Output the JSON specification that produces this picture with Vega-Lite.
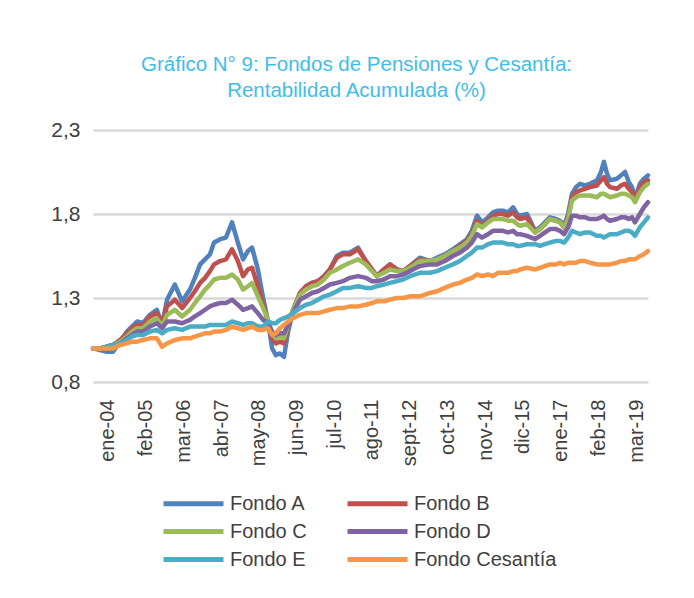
{
"$schema": "https://vega.github.io/schema/vega-lite/v6.json",
"width": 555, "height": 252,
"autosize": "none",
"padding": {"left": 93, "top": 130, "right": 46, "bottom": 216},
"background": "white",
"title": {"text": ["Gráfico N° 9: Fondos de Pensiones y Cesantía:", "Rentabilidad Acumulada (%)"], "font": "Liberation Sans, sans-serif", "fontSize": 20.5, "fontWeight": "normal", "color": "#3DBEEA", "anchor": "middle", "dx": -14, "offset": -2, "lineHeight": 26, "baseline": "bottom"},
"datasets": {"series": [
{"t":-5.1,"s":"Fondo A","v":1.00},{"t":-2.7,"s":"Fondo A","v":0.99},{"t":-0.3,"s":"Fondo A","v":0.98},{"t":1.8,"s":"Fondo A","v":0.98},{"t":4.2,"s":"Fondo A","v":1.04},{"t":6.6,"s":"Fondo A","v":1.10},{"t":8.3,"s":"Fondo A","v":1.13},{"t":10.1,"s":"Fondo A","v":1.16},{"t":12.1,"s":"Fondo A","v":1.15},{"t":14.5,"s":"Fondo A","v":1.20},
{"t":16.9,"s":"Fondo A","v":1.23},{"t":18.7,"s":"Fondo A","v":1.14},{"t":20.4,"s":"Fondo A","v":1.29},{"t":23.1,"s":"Fondo A","v":1.38},{"t":25.6,"s":"Fondo A","v":1.28},{"t":28.3,"s":"Fondo A","v":1.35},{"t":30.0,"s":"Fondo A","v":1.42},{"t":31.8,"s":"Fondo A","v":1.50},{"t":33.5,"s":"Fondo A","v":1.53},{"t":35.2,"s":"Fondo A","v":1.56},
{"t":36.6,"s":"Fondo A","v":1.63},{"t":38.7,"s":"Fondo A","v":1.65},{"t":40.7,"s":"Fondo A","v":1.66},{"t":42.8,"s":"Fondo A","v":1.75},{"t":44.8,"s":"Fondo A","v":1.63},{"t":46.6,"s":"Fondo A","v":1.53},{"t":48.3,"s":"Fondo A","v":1.58},{"t":49.7,"s":"Fondo A","v":1.60},{"t":51.7,"s":"Fondo A","v":1.47},{"t":53.5,"s":"Fondo A","v":1.30},
{"t":55.2,"s":"Fondo A","v":1.16},{"t":56.6,"s":"Fondo A","v":1.00},{"t":57.9,"s":"Fondo A","v":0.96},{"t":59.3,"s":"Fondo A","v":0.97},{"t":60.7,"s":"Fondo A","v":0.95},{"t":62.1,"s":"Fondo A","v":1.10},{"t":63.8,"s":"Fondo A","v":1.22},{"t":66.2,"s":"Fondo A","v":1.33},{"t":68.3,"s":"Fondo A","v":1.37},{"t":70.3,"s":"Fondo A","v":1.39},
{"t":72.4,"s":"Fondo A","v":1.40},{"t":74.5,"s":"Fondo A","v":1.43},{"t":76.5,"s":"Fondo A","v":1.47},{"t":78.9,"s":"Fondo A","v":1.55},{"t":81.0,"s":"Fondo A","v":1.57},{"t":83.4,"s":"Fondo A","v":1.57},{"t":86.2,"s":"Fondo A","v":1.60},{"t":88.9,"s":"Fondo A","v":1.52},{"t":91.0,"s":"Fondo A","v":1.47},{"t":92.7,"s":"Fondo A","v":1.43},
{"t":95.1,"s":"Fondo A","v":1.47},{"t":97.2,"s":"Fondo A","v":1.50},{"t":99.6,"s":"Fondo A","v":1.47},{"t":101.7,"s":"Fondo A","v":1.46},{"t":104.1,"s":"Fondo A","v":1.49},{"t":107.5,"s":"Fondo A","v":1.54},{"t":111.0,"s":"Fondo A","v":1.52},{"t":113.4,"s":"Fondo A","v":1.54},{"t":116.1,"s":"Fondo A","v":1.56},{"t":118.9,"s":"Fondo A","v":1.59},
{"t":121.3,"s":"Fondo A","v":1.62},{"t":123.7,"s":"Fondo A","v":1.65},{"t":125.4,"s":"Fondo A","v":1.70},{"t":127.2,"s":"Fondo A","v":1.79},{"t":128.9,"s":"Fondo A","v":1.75},{"t":131.0,"s":"Fondo A","v":1.78},{"t":132.7,"s":"Fondo A","v":1.81},{"t":134.4,"s":"Fondo A","v":1.82},{"t":136.1,"s":"Fondo A","v":1.82},{"t":137.9,"s":"Fondo A","v":1.81},
{"t":139.6,"s":"Fondo A","v":1.84},{"t":141.0,"s":"Fondo A","v":1.80},{"t":142.0,"s":"Fondo A","v":1.79},{"t":144.4,"s":"Fondo A","v":1.80},{"t":147.2,"s":"Fondo A","v":1.70},{"t":148.9,"s":"Fondo A","v":1.72},{"t":150.6,"s":"Fondo A","v":1.75},{"t":152.3,"s":"Fondo A","v":1.78},{"t":154.4,"s":"Fondo A","v":1.77},{"t":155.8,"s":"Fondo A","v":1.76},
{"t":157.2,"s":"Fondo A","v":1.73},{"t":158.6,"s":"Fondo A","v":1.80},{"t":159.9,"s":"Fondo A","v":1.92},{"t":161.3,"s":"Fondo A","v":1.96},{"t":162.7,"s":"Fondo A","v":1.98},{"t":164.4,"s":"Fondo A","v":1.97},{"t":166.1,"s":"Fondo A","v":1.98},{"t":168.5,"s":"Fondo A","v":2.00},{"t":169.9,"s":"Fondo A","v":2.05},{"t":170.9,"s":"Fondo A","v":2.11},
{"t":172.0,"s":"Fondo A","v":2.04},{"t":173.0,"s":"Fondo A","v":2.00},{"t":175.4,"s":"Fondo A","v":2.01},{"t":176.8,"s":"Fondo A","v":2.03},{"t":178.2,"s":"Fondo A","v":2.05},{"t":179.5,"s":"Fondo A","v":1.99},{"t":180.6,"s":"Fondo A","v":1.96},{"t":181.6,"s":"Fondo A","v":1.89},{"t":183.3,"s":"Fondo A","v":1.98},{"t":184.7,"s":"Fondo A","v":2.01},{"t":186.1,"s":"Fondo A","v":2.03},

{"t":-5.1,"s":"Fondo B","v":1.00},{"t":-2.7,"s":"Fondo B","v":1.00},{"t":-0.3,"s":"Fondo B","v":1.01},{"t":1.8,"s":"Fondo B","v":1.02},{"t":4.2,"s":"Fondo B","v":1.05},{"t":6.6,"s":"Fondo B","v":1.09},{"t":8.3,"s":"Fondo B","v":1.12},{"t":10.1,"s":"Fondo B","v":1.14},{"t":12.1,"s":"Fondo B","v":1.14},{"t":14.5,"s":"Fondo B","v":1.19},
{"t":16.9,"s":"Fondo B","v":1.21},{"t":18.7,"s":"Fondo B","v":1.14},{"t":20.4,"s":"Fondo B","v":1.25},{"t":23.1,"s":"Fondo B","v":1.29},{"t":25.6,"s":"Fondo B","v":1.24},{"t":28.3,"s":"Fondo B","v":1.30},{"t":30.0,"s":"Fondo B","v":1.34},{"t":31.8,"s":"Fondo B","v":1.39},{"t":33.5,"s":"Fondo B","v":1.42},{"t":35.2,"s":"Fondo B","v":1.46},
{"t":36.6,"s":"Fondo B","v":1.50},{"t":38.7,"s":"Fondo B","v":1.52},{"t":40.7,"s":"Fondo B","v":1.53},{"t":42.8,"s":"Fondo B","v":1.59},{"t":44.8,"s":"Fondo B","v":1.52},{"t":46.6,"s":"Fondo B","v":1.43},{"t":48.3,"s":"Fondo B","v":1.47},{"t":49.7,"s":"Fondo B","v":1.48},{"t":51.7,"s":"Fondo B","v":1.37},{"t":53.5,"s":"Fondo B","v":1.26},
{"t":55.2,"s":"Fondo B","v":1.16},{"t":56.6,"s":"Fondo B","v":1.06},{"t":57.9,"s":"Fondo B","v":1.03},{"t":59.3,"s":"Fondo B","v":1.04},{"t":60.7,"s":"Fondo B","v":1.03},{"t":62.1,"s":"Fondo B","v":1.13},{"t":63.8,"s":"Fondo B","v":1.23},{"t":66.2,"s":"Fondo B","v":1.33},{"t":68.3,"s":"Fondo B","v":1.37},{"t":70.3,"s":"Fondo B","v":1.39},
{"t":72.4,"s":"Fondo B","v":1.40},{"t":74.5,"s":"Fondo B","v":1.43},{"t":76.5,"s":"Fondo B","v":1.47},{"t":78.9,"s":"Fondo B","v":1.54},{"t":81.0,"s":"Fondo B","v":1.56},{"t":83.4,"s":"Fondo B","v":1.56},{"t":86.2,"s":"Fondo B","v":1.59},{"t":88.9,"s":"Fondo B","v":1.52},{"t":91.0,"s":"Fondo B","v":1.47},{"t":92.7,"s":"Fondo B","v":1.43},
{"t":95.1,"s":"Fondo B","v":1.47},{"t":97.2,"s":"Fondo B","v":1.50},{"t":99.6,"s":"Fondo B","v":1.47},{"t":101.7,"s":"Fondo B","v":1.46},{"t":104.1,"s":"Fondo B","v":1.49},{"t":107.5,"s":"Fondo B","v":1.53},{"t":111.0,"s":"Fondo B","v":1.52},{"t":113.4,"s":"Fondo B","v":1.53},{"t":116.1,"s":"Fondo B","v":1.55},{"t":118.9,"s":"Fondo B","v":1.58},
{"t":121.3,"s":"Fondo B","v":1.61},{"t":123.7,"s":"Fondo B","v":1.64},{"t":125.4,"s":"Fondo B","v":1.68},{"t":127.2,"s":"Fondo B","v":1.76},{"t":128.9,"s":"Fondo B","v":1.73},{"t":131.0,"s":"Fondo B","v":1.76},{"t":132.7,"s":"Fondo B","v":1.79},{"t":134.4,"s":"Fondo B","v":1.80},{"t":136.1,"s":"Fondo B","v":1.80},{"t":137.9,"s":"Fondo B","v":1.79},
{"t":139.6,"s":"Fondo B","v":1.81},{"t":141.0,"s":"Fondo B","v":1.78},{"t":142.0,"s":"Fondo B","v":1.77},{"t":144.4,"s":"Fondo B","v":1.78},{"t":147.2,"s":"Fondo B","v":1.69},{"t":148.9,"s":"Fondo B","v":1.71},{"t":150.6,"s":"Fondo B","v":1.74},{"t":152.3,"s":"Fondo B","v":1.77},{"t":154.4,"s":"Fondo B","v":1.76},{"t":155.8,"s":"Fondo B","v":1.75},
{"t":157.2,"s":"Fondo B","v":1.72},{"t":158.6,"s":"Fondo B","v":1.78},{"t":159.9,"s":"Fondo B","v":1.90},{"t":161.3,"s":"Fondo B","v":1.93},{"t":162.7,"s":"Fondo B","v":1.94},{"t":164.4,"s":"Fondo B","v":1.95},{"t":166.1,"s":"Fondo B","v":1.96},{"t":168.5,"s":"Fondo B","v":1.97},{"t":169.9,"s":"Fondo B","v":2.00},{"t":170.9,"s":"Fondo B","v":2.02},
{"t":172.0,"s":"Fondo B","v":1.98},{"t":173.0,"s":"Fondo B","v":1.96},{"t":175.4,"s":"Fondo B","v":1.95},{"t":176.8,"s":"Fondo B","v":1.97},{"t":178.2,"s":"Fondo B","v":1.98},{"t":179.5,"s":"Fondo B","v":1.95},{"t":180.6,"s":"Fondo B","v":1.93},{"t":181.6,"s":"Fondo B","v":1.88},{"t":183.3,"s":"Fondo B","v":1.96},{"t":184.7,"s":"Fondo B","v":1.99},{"t":186.1,"s":"Fondo B","v":2.00},

{"t":-5.1,"s":"Fondo C","v":1.00},{"t":-2.7,"s":"Fondo C","v":1.00},{"t":-0.3,"s":"Fondo C","v":1.01},{"t":1.8,"s":"Fondo C","v":1.02},{"t":4.2,"s":"Fondo C","v":1.04},{"t":6.6,"s":"Fondo C","v":1.07},{"t":8.3,"s":"Fondo C","v":1.10},{"t":10.1,"s":"Fondo C","v":1.12},{"t":12.1,"s":"Fondo C","v":1.12},{"t":14.5,"s":"Fondo C","v":1.16},
{"t":16.9,"s":"Fondo C","v":1.18},{"t":18.7,"s":"Fondo C","v":1.13},{"t":20.4,"s":"Fondo C","v":1.20},{"t":23.1,"s":"Fondo C","v":1.23},{"t":25.6,"s":"Fondo C","v":1.19},{"t":28.3,"s":"Fondo C","v":1.23},{"t":30.0,"s":"Fondo C","v":1.27},{"t":31.8,"s":"Fondo C","v":1.31},{"t":33.5,"s":"Fondo C","v":1.35},{"t":35.2,"s":"Fondo C","v":1.38},
{"t":36.6,"s":"Fondo C","v":1.41},{"t":38.7,"s":"Fondo C","v":1.42},{"t":40.7,"s":"Fondo C","v":1.42},{"t":42.8,"s":"Fondo C","v":1.44},{"t":44.8,"s":"Fondo C","v":1.41},{"t":46.6,"s":"Fondo C","v":1.35},{"t":48.3,"s":"Fondo C","v":1.37},{"t":49.7,"s":"Fondo C","v":1.39},{"t":51.7,"s":"Fondo C","v":1.31},{"t":53.5,"s":"Fondo C","v":1.24},
{"t":55.2,"s":"Fondo C","v":1.17},{"t":56.6,"s":"Fondo C","v":1.09},{"t":57.9,"s":"Fondo C","v":1.06},{"t":59.3,"s":"Fondo C","v":1.07},{"t":60.7,"s":"Fondo C","v":1.06},{"t":62.1,"s":"Fondo C","v":1.14},{"t":63.8,"s":"Fondo C","v":1.23},{"t":66.2,"s":"Fondo C","v":1.32},{"t":68.3,"s":"Fondo C","v":1.35},{"t":70.3,"s":"Fondo C","v":1.37},
{"t":72.4,"s":"Fondo C","v":1.38},{"t":74.5,"s":"Fondo C","v":1.41},{"t":76.5,"s":"Fondo C","v":1.45},{"t":78.9,"s":"Fondo C","v":1.47},{"t":81.0,"s":"Fondo C","v":1.49},{"t":83.4,"s":"Fondo C","v":1.51},{"t":86.2,"s":"Fondo C","v":1.53},{"t":88.9,"s":"Fondo C","v":1.50},{"t":91.0,"s":"Fondo C","v":1.46},{"t":92.7,"s":"Fondo C","v":1.43},
{"t":95.1,"s":"Fondo C","v":1.45},{"t":97.2,"s":"Fondo C","v":1.47},{"t":99.6,"s":"Fondo C","v":1.46},{"t":101.7,"s":"Fondo C","v":1.46},{"t":104.1,"s":"Fondo C","v":1.48},{"t":107.5,"s":"Fondo C","v":1.52},{"t":111.0,"s":"Fondo C","v":1.52},{"t":113.4,"s":"Fondo C","v":1.53},{"t":116.1,"s":"Fondo C","v":1.55},{"t":118.9,"s":"Fondo C","v":1.58},
{"t":121.3,"s":"Fondo C","v":1.60},{"t":123.7,"s":"Fondo C","v":1.63},{"t":125.4,"s":"Fondo C","v":1.67},{"t":127.2,"s":"Fondo C","v":1.74},{"t":128.9,"s":"Fondo C","v":1.72},{"t":131.0,"s":"Fondo C","v":1.75},{"t":132.7,"s":"Fondo C","v":1.77},{"t":134.4,"s":"Fondo C","v":1.77},{"t":136.1,"s":"Fondo C","v":1.77},{"t":137.9,"s":"Fondo C","v":1.76},
{"t":139.6,"s":"Fondo C","v":1.76},{"t":141.0,"s":"Fondo C","v":1.74},{"t":142.0,"s":"Fondo C","v":1.73},{"t":144.4,"s":"Fondo C","v":1.74},{"t":147.2,"s":"Fondo C","v":1.69},{"t":148.9,"s":"Fondo C","v":1.71},{"t":150.6,"s":"Fondo C","v":1.74},{"t":152.3,"s":"Fondo C","v":1.77},{"t":154.4,"s":"Fondo C","v":1.76},{"t":155.8,"s":"Fondo C","v":1.75},
{"t":157.2,"s":"Fondo C","v":1.72},{"t":158.6,"s":"Fondo C","v":1.77},{"t":159.9,"s":"Fondo C","v":1.88},{"t":161.3,"s":"Fondo C","v":1.90},{"t":162.7,"s":"Fondo C","v":1.91},{"t":164.4,"s":"Fondo C","v":1.91},{"t":166.1,"s":"Fondo C","v":1.91},{"t":168.5,"s":"Fondo C","v":1.90},{"t":169.9,"s":"Fondo C","v":1.92},{"t":170.9,"s":"Fondo C","v":1.92},
{"t":172.0,"s":"Fondo C","v":1.91},{"t":173.0,"s":"Fondo C","v":1.90},{"t":175.4,"s":"Fondo C","v":1.91},{"t":176.8,"s":"Fondo C","v":1.92},{"t":178.2,"s":"Fondo C","v":1.92},{"t":179.5,"s":"Fondo C","v":1.91},{"t":180.6,"s":"Fondo C","v":1.90},{"t":181.6,"s":"Fondo C","v":1.87},{"t":183.3,"s":"Fondo C","v":1.93},{"t":184.7,"s":"Fondo C","v":1.96},{"t":186.1,"s":"Fondo C","v":1.98},

{"t":-5.1,"s":"Fondo D","v":1.00},{"t":-2.7,"s":"Fondo D","v":1.00},{"t":-0.3,"s":"Fondo D","v":1.01},{"t":1.8,"s":"Fondo D","v":1.02},{"t":4.2,"s":"Fondo D","v":1.03},{"t":6.6,"s":"Fondo D","v":1.06},{"t":8.3,"s":"Fondo D","v":1.08},{"t":10.1,"s":"Fondo D","v":1.10},{"t":12.1,"s":"Fondo D","v":1.10},{"t":14.5,"s":"Fondo D","v":1.13},
{"t":16.9,"s":"Fondo D","v":1.15},{"t":18.7,"s":"Fondo D","v":1.12},{"t":20.4,"s":"Fondo D","v":1.16},{"t":23.1,"s":"Fondo D","v":1.16},{"t":25.6,"s":"Fondo D","v":1.15},{"t":28.3,"s":"Fondo D","v":1.17},{"t":30.0,"s":"Fondo D","v":1.19},{"t":31.8,"s":"Fondo D","v":1.21},{"t":33.5,"s":"Fondo D","v":1.23},{"t":35.2,"s":"Fondo D","v":1.25},
{"t":36.6,"s":"Fondo D","v":1.26},{"t":38.7,"s":"Fondo D","v":1.27},{"t":40.7,"s":"Fondo D","v":1.27},{"t":42.8,"s":"Fondo D","v":1.29},{"t":44.8,"s":"Fondo D","v":1.26},{"t":46.6,"s":"Fondo D","v":1.23},{"t":48.3,"s":"Fondo D","v":1.24},{"t":49.7,"s":"Fondo D","v":1.25},{"t":51.7,"s":"Fondo D","v":1.21},{"t":53.5,"s":"Fondo D","v":1.17},
{"t":55.2,"s":"Fondo D","v":1.15},{"t":56.6,"s":"Fondo D","v":1.10},{"t":57.9,"s":"Fondo D","v":1.08},{"t":59.3,"s":"Fondo D","v":1.09},{"t":60.7,"s":"Fondo D","v":1.09},{"t":62.1,"s":"Fondo D","v":1.14},{"t":63.8,"s":"Fondo D","v":1.21},{"t":66.2,"s":"Fondo D","v":1.29},{"t":68.3,"s":"Fondo D","v":1.31},{"t":70.3,"s":"Fondo D","v":1.33},
{"t":72.4,"s":"Fondo D","v":1.34},{"t":74.5,"s":"Fondo D","v":1.36},{"t":76.5,"s":"Fondo D","v":1.38},{"t":78.9,"s":"Fondo D","v":1.39},{"t":81.0,"s":"Fondo D","v":1.40},{"t":83.4,"s":"Fondo D","v":1.42},{"t":86.2,"s":"Fondo D","v":1.43},{"t":88.9,"s":"Fondo D","v":1.42},{"t":91.0,"s":"Fondo D","v":1.40},{"t":92.7,"s":"Fondo D","v":1.40},
{"t":95.1,"s":"Fondo D","v":1.41},{"t":97.2,"s":"Fondo D","v":1.43},{"t":99.6,"s":"Fondo D","v":1.43},{"t":101.7,"s":"Fondo D","v":1.44},{"t":104.1,"s":"Fondo D","v":1.46},{"t":107.5,"s":"Fondo D","v":1.49},{"t":111.0,"s":"Fondo D","v":1.50},{"t":113.4,"s":"Fondo D","v":1.50},{"t":116.1,"s":"Fondo D","v":1.52},{"t":118.9,"s":"Fondo D","v":1.55},
{"t":121.3,"s":"Fondo D","v":1.57},{"t":123.7,"s":"Fondo D","v":1.60},{"t":125.4,"s":"Fondo D","v":1.63},{"t":127.2,"s":"Fondo D","v":1.68},{"t":128.9,"s":"Fondo D","v":1.66},{"t":131.0,"s":"Fondo D","v":1.68},{"t":132.7,"s":"Fondo D","v":1.70},{"t":134.4,"s":"Fondo D","v":1.70},{"t":136.1,"s":"Fondo D","v":1.70},{"t":137.9,"s":"Fondo D","v":1.69},
{"t":139.6,"s":"Fondo D","v":1.70},{"t":141.0,"s":"Fondo D","v":1.68},{"t":142.0,"s":"Fondo D","v":1.68},{"t":144.4,"s":"Fondo D","v":1.67},{"t":147.2,"s":"Fondo D","v":1.65},{"t":148.9,"s":"Fondo D","v":1.67},{"t":150.6,"s":"Fondo D","v":1.69},{"t":152.3,"s":"Fondo D","v":1.71},{"t":154.4,"s":"Fondo D","v":1.71},{"t":155.8,"s":"Fondo D","v":1.70},
{"t":157.2,"s":"Fondo D","v":1.68},{"t":158.6,"s":"Fondo D","v":1.72},{"t":159.9,"s":"Fondo D","v":1.79},{"t":161.3,"s":"Fondo D","v":1.79},{"t":162.7,"s":"Fondo D","v":1.78},{"t":164.4,"s":"Fondo D","v":1.78},{"t":166.1,"s":"Fondo D","v":1.77},{"t":168.5,"s":"Fondo D","v":1.77},{"t":169.9,"s":"Fondo D","v":1.78},{"t":170.9,"s":"Fondo D","v":1.79},
{"t":172.0,"s":"Fondo D","v":1.77},{"t":173.0,"s":"Fondo D","v":1.76},{"t":175.4,"s":"Fondo D","v":1.77},{"t":176.8,"s":"Fondo D","v":1.78},{"t":178.2,"s":"Fondo D","v":1.78},{"t":179.5,"s":"Fondo D","v":1.77},{"t":180.6,"s":"Fondo D","v":1.78},{"t":181.6,"s":"Fondo D","v":1.75},{"t":183.3,"s":"Fondo D","v":1.80},{"t":184.7,"s":"Fondo D","v":1.84},{"t":186.1,"s":"Fondo D","v":1.87},

{"t":-5.1,"s":"Fondo E","v":1.00},{"t":-2.7,"s":"Fondo E","v":1.00},{"t":-0.3,"s":"Fondo E","v":1.01},{"t":1.8,"s":"Fondo E","v":1.02},{"t":4.2,"s":"Fondo E","v":1.03},{"t":6.6,"s":"Fondo E","v":1.05},{"t":8.3,"s":"Fondo E","v":1.07},{"t":10.1,"s":"Fondo E","v":1.08},{"t":12.1,"s":"Fondo E","v":1.08},{"t":14.5,"s":"Fondo E","v":1.10},
{"t":16.9,"s":"Fondo E","v":1.11},{"t":18.7,"s":"Fondo E","v":1.09},{"t":20.4,"s":"Fondo E","v":1.11},{"t":23.1,"s":"Fondo E","v":1.12},{"t":25.6,"s":"Fondo E","v":1.11},{"t":28.3,"s":"Fondo E","v":1.13},{"t":30.0,"s":"Fondo E","v":1.13},{"t":31.8,"s":"Fondo E","v":1.13},{"t":33.5,"s":"Fondo E","v":1.13},{"t":35.2,"s":"Fondo E","v":1.14},
{"t":36.6,"s":"Fondo E","v":1.14},{"t":38.7,"s":"Fondo E","v":1.14},{"t":40.7,"s":"Fondo E","v":1.14},{"t":42.8,"s":"Fondo E","v":1.16},{"t":44.8,"s":"Fondo E","v":1.15},{"t":46.6,"s":"Fondo E","v":1.14},{"t":48.3,"s":"Fondo E","v":1.15},{"t":49.7,"s":"Fondo E","v":1.15},{"t":51.7,"s":"Fondo E","v":1.13},{"t":53.5,"s":"Fondo E","v":1.13},
{"t":55.2,"s":"Fondo E","v":1.16},{"t":56.6,"s":"Fondo E","v":1.15},{"t":57.9,"s":"Fondo E","v":1.15},{"t":59.3,"s":"Fondo E","v":1.17},{"t":60.7,"s":"Fondo E","v":1.18},{"t":62.1,"s":"Fondo E","v":1.19},{"t":63.8,"s":"Fondo E","v":1.21},{"t":66.2,"s":"Fondo E","v":1.24},{"t":68.3,"s":"Fondo E","v":1.26},{"t":70.3,"s":"Fondo E","v":1.27},
{"t":72.4,"s":"Fondo E","v":1.29},{"t":74.5,"s":"Fondo E","v":1.31},{"t":76.5,"s":"Fondo E","v":1.32},{"t":78.9,"s":"Fondo E","v":1.34},{"t":81.0,"s":"Fondo E","v":1.36},{"t":83.4,"s":"Fondo E","v":1.36},{"t":86.2,"s":"Fondo E","v":1.37},{"t":88.9,"s":"Fondo E","v":1.36},{"t":91.0,"s":"Fondo E","v":1.36},{"t":92.7,"s":"Fondo E","v":1.37},
{"t":95.1,"s":"Fondo E","v":1.38},{"t":97.2,"s":"Fondo E","v":1.39},{"t":99.6,"s":"Fondo E","v":1.40},{"t":101.7,"s":"Fondo E","v":1.41},{"t":104.1,"s":"Fondo E","v":1.43},{"t":107.5,"s":"Fondo E","v":1.45},{"t":111.0,"s":"Fondo E","v":1.45},{"t":113.4,"s":"Fondo E","v":1.46},{"t":116.1,"s":"Fondo E","v":1.48},{"t":118.9,"s":"Fondo E","v":1.50},
{"t":121.3,"s":"Fondo E","v":1.52},{"t":123.7,"s":"Fondo E","v":1.55},{"t":125.4,"s":"Fondo E","v":1.57},{"t":127.2,"s":"Fondo E","v":1.60},{"t":128.9,"s":"Fondo E","v":1.60},{"t":131.0,"s":"Fondo E","v":1.62},{"t":132.7,"s":"Fondo E","v":1.63},{"t":134.4,"s":"Fondo E","v":1.63},{"t":136.1,"s":"Fondo E","v":1.63},{"t":137.9,"s":"Fondo E","v":1.62},
{"t":139.6,"s":"Fondo E","v":1.62},{"t":141.0,"s":"Fondo E","v":1.61},{"t":142.0,"s":"Fondo E","v":1.61},{"t":144.4,"s":"Fondo E","v":1.62},{"t":147.2,"s":"Fondo E","v":1.62},{"t":148.9,"s":"Fondo E","v":1.61},{"t":150.6,"s":"Fondo E","v":1.62},{"t":152.3,"s":"Fondo E","v":1.63},{"t":154.4,"s":"Fondo E","v":1.64},{"t":155.8,"s":"Fondo E","v":1.64},
{"t":157.2,"s":"Fondo E","v":1.63},{"t":158.6,"s":"Fondo E","v":1.66},{"t":159.9,"s":"Fondo E","v":1.70},{"t":161.3,"s":"Fondo E","v":1.69},{"t":162.7,"s":"Fondo E","v":1.68},{"t":164.4,"s":"Fondo E","v":1.69},{"t":166.1,"s":"Fondo E","v":1.69},{"t":168.5,"s":"Fondo E","v":1.67},{"t":169.9,"s":"Fondo E","v":1.67},{"t":170.9,"s":"Fondo E","v":1.66},
{"t":172.0,"s":"Fondo E","v":1.67},{"t":173.0,"s":"Fondo E","v":1.68},{"t":175.4,"s":"Fondo E","v":1.68},{"t":176.8,"s":"Fondo E","v":1.69},{"t":178.2,"s":"Fondo E","v":1.70},{"t":179.5,"s":"Fondo E","v":1.70},{"t":180.6,"s":"Fondo E","v":1.69},{"t":181.6,"s":"Fondo E","v":1.67},{"t":183.3,"s":"Fondo E","v":1.72},{"t":184.7,"s":"Fondo E","v":1.75},{"t":186.1,"s":"Fondo E","v":1.78},

{"t":-5.1,"s":"Fondo Cesantía","v":1.00},{"t":-2.7,"s":"Fondo Cesantía","v":1.00},{"t":-0.3,"s":"Fondo Cesantía","v":1.00},{"t":1.8,"s":"Fondo Cesantía","v":1.00},{"t":4.2,"s":"Fondo Cesantía","v":1.02},{"t":6.6,"s":"Fondo Cesantía","v":1.03},{"t":8.3,"s":"Fondo Cesantía","v":1.04},{"t":10.1,"s":"Fondo Cesantía","v":1.04},{"t":12.1,"s":"Fondo Cesantía","v":1.05},{"t":14.5,"s":"Fondo Cesantía","v":1.06},
{"t":16.9,"s":"Fondo Cesantía","v":1.06},{"t":18.7,"s":"Fondo Cesantía","v":1.01},{"t":20.4,"s":"Fondo Cesantía","v":1.03},{"t":23.1,"s":"Fondo Cesantía","v":1.05},{"t":25.6,"s":"Fondo Cesantía","v":1.06},{"t":28.3,"s":"Fondo Cesantía","v":1.06},{"t":30.0,"s":"Fondo Cesantía","v":1.07},{"t":31.8,"s":"Fondo Cesantía","v":1.08},{"t":33.5,"s":"Fondo Cesantía","v":1.09},{"t":35.2,"s":"Fondo Cesantía","v":1.09},
{"t":36.6,"s":"Fondo Cesantía","v":1.10},{"t":38.7,"s":"Fondo Cesantía","v":1.10},{"t":40.7,"s":"Fondo Cesantía","v":1.11},{"t":42.8,"s":"Fondo Cesantía","v":1.13},{"t":44.8,"s":"Fondo Cesantía","v":1.12},{"t":46.6,"s":"Fondo Cesantía","v":1.11},{"t":48.3,"s":"Fondo Cesantía","v":1.12},{"t":49.7,"s":"Fondo Cesantía","v":1.13},{"t":51.7,"s":"Fondo Cesantía","v":1.11},{"t":53.5,"s":"Fondo Cesantía","v":1.11},
{"t":55.2,"s":"Fondo Cesantía","v":1.12},{"t":56.6,"s":"Fondo Cesantía","v":1.08},{"t":57.9,"s":"Fondo Cesantía","v":1.09},{"t":59.3,"s":"Fondo Cesantía","v":1.12},{"t":60.7,"s":"Fondo Cesantía","v":1.14},{"t":62.1,"s":"Fondo Cesantía","v":1.16},{"t":63.8,"s":"Fondo Cesantía","v":1.18},{"t":66.2,"s":"Fondo Cesantía","v":1.20},{"t":68.3,"s":"Fondo Cesantía","v":1.21},{"t":70.3,"s":"Fondo Cesantía","v":1.21},
{"t":72.4,"s":"Fondo Cesantía","v":1.21},{"t":74.5,"s":"Fondo Cesantía","v":1.22},{"t":76.5,"s":"Fondo Cesantía","v":1.23},{"t":78.9,"s":"Fondo Cesantía","v":1.24},{"t":81.0,"s":"Fondo Cesantía","v":1.24},{"t":83.4,"s":"Fondo Cesantía","v":1.25},{"t":86.2,"s":"Fondo Cesantía","v":1.25},{"t":88.9,"s":"Fondo Cesantía","v":1.26},{"t":91.0,"s":"Fondo Cesantía","v":1.27},{"t":92.7,"s":"Fondo Cesantía","v":1.28},
{"t":95.1,"s":"Fondo Cesantía","v":1.28},{"t":97.2,"s":"Fondo Cesantía","v":1.29},{"t":99.6,"s":"Fondo Cesantía","v":1.30},{"t":101.7,"s":"Fondo Cesantía","v":1.30},{"t":104.1,"s":"Fondo Cesantía","v":1.31},{"t":107.5,"s":"Fondo Cesantía","v":1.31},{"t":111.0,"s":"Fondo Cesantía","v":1.33},{"t":113.4,"s":"Fondo Cesantía","v":1.34},{"t":116.1,"s":"Fondo Cesantía","v":1.36},{"t":118.9,"s":"Fondo Cesantía","v":1.38},
{"t":121.3,"s":"Fondo Cesantía","v":1.39},{"t":123.7,"s":"Fondo Cesantía","v":1.41},{"t":125.4,"s":"Fondo Cesantía","v":1.42},{"t":127.2,"s":"Fondo Cesantía","v":1.44},{"t":128.9,"s":"Fondo Cesantía","v":1.43},{"t":131.0,"s":"Fondo Cesantía","v":1.44},{"t":132.7,"s":"Fondo Cesantía","v":1.43},{"t":134.4,"s":"Fondo Cesantía","v":1.45},{"t":136.1,"s":"Fondo Cesantía","v":1.45},{"t":137.9,"s":"Fondo Cesantía","v":1.45},
{"t":139.6,"s":"Fondo Cesantía","v":1.46},{"t":141.0,"s":"Fondo Cesantía","v":1.46},{"t":142.0,"s":"Fondo Cesantía","v":1.47},{"t":144.4,"s":"Fondo Cesantía","v":1.48},{"t":147.2,"s":"Fondo Cesantía","v":1.47},{"t":148.9,"s":"Fondo Cesantía","v":1.48},{"t":150.6,"s":"Fondo Cesantía","v":1.49},{"t":152.3,"s":"Fondo Cesantía","v":1.50},{"t":154.4,"s":"Fondo Cesantía","v":1.50},{"t":155.8,"s":"Fondo Cesantía","v":1.51},
{"t":157.2,"s":"Fondo Cesantía","v":1.50},{"t":158.6,"s":"Fondo Cesantía","v":1.51},{"t":159.9,"s":"Fondo Cesantía","v":1.51},{"t":161.3,"s":"Fondo Cesantía","v":1.51},{"t":162.7,"s":"Fondo Cesantía","v":1.52},{"t":164.4,"s":"Fondo Cesantía","v":1.52},{"t":166.1,"s":"Fondo Cesantía","v":1.51},{"t":168.5,"s":"Fondo Cesantía","v":1.50},{"t":169.9,"s":"Fondo Cesantía","v":1.50},{"t":170.9,"s":"Fondo Cesantía","v":1.50},
{"t":172.0,"s":"Fondo Cesantía","v":1.50},{"t":173.0,"s":"Fondo Cesantía","v":1.50},{"t":175.4,"s":"Fondo Cesantía","v":1.51},{"t":176.8,"s":"Fondo Cesantía","v":1.52},{"t":178.2,"s":"Fondo Cesantía","v":1.52},{"t":179.5,"s":"Fondo Cesantía","v":1.53},{"t":180.6,"s":"Fondo Cesantía","v":1.53},{"t":181.6,"s":"Fondo Cesantía","v":1.53},{"t":183.3,"s":"Fondo Cesantía","v":1.55},{"t":184.7,"s":"Fondo Cesantía","v":1.56},{"t":186.1,"s":"Fondo Cesantía","v":1.58}
]},
"data": {"name": "series"},
"mark": {"type": "line", "strokeWidth": 4.5, "strokeJoin": "round", "strokeCap": "round"},
"encoding": {
  "x": {"field": "t", "type": "quantitative",
    "scale": {"domain": [-5.1, 186.1], "nice": false, "zero": false},
    "axis": {"title": null, "values": [0,13,26,39,52,65,78,91,104,117,130,143,156,169,182],
      "labelExpr": "['ene-04','feb-05','mar-06','abr-07','may-08','jun-09','jul-10','ago-11','sept-12','oct-13','nov-14','dic-15','ene-17','feb-18','mar-19'][round(datum.value/13)]",
      "labelAngle": -90, "labelAlign": "right", "labelBaseline": "middle", "grid": false, "ticks": false, "tickSize": 0, "domain": false,
      "labelFont": "Liberation Sans, sans-serif", "labelFontSize": 20, "labelColor": "#404040", "labelPadding": 17,
      "labelOverlap": false, "labelFlush": false, "labelBound": false}},
  "y": {"field": "v", "type": "quantitative",
    "scale": {"domain": [0.8, 2.3], "nice": false, "zero": false},
    "axis": {"title": null, "values": [0.8,1.3,1.8,2.3],
      "labelExpr": "replace(format(datum.value,'.1f'),'.',',')",
      "grid": true, "gridColor": "#D9D9D9", "gridWidth": 2.5, "ticks": false, "tickSize": 0, "domain": false,
      "labelFont": "Liberation Sans, sans-serif", "labelFontSize": 21, "labelColor": "#404040", "labelPadding": 13}},
  "color": {"field": "s", "type": "nominal",
    "scale": {"domain": ["Fondo A","Fondo C","Fondo E","Fondo B","Fondo D","Fondo Cesantía"],
              "range": ["#4F81BD","#9BBB59","#4BACC6","#C0504D","#8064A2","#F79646"]},
    "legend": {"title": null, "orient": "none", "legendX": 88, "legendY": 361, "columns": 2,
      "symbolType": "M-3,0H3", "symbolSize": 400, "symbolStrokeWidth": 5,
      "labelFont": "Liberation Sans, sans-serif", "labelFontSize": 20, "labelColor": "#404040",
      "labelOffset": 24, "columnPadding": 30, "rowPadding": 5, "padding": 0}}
},
"config": {"view": {"stroke": null}}
}
